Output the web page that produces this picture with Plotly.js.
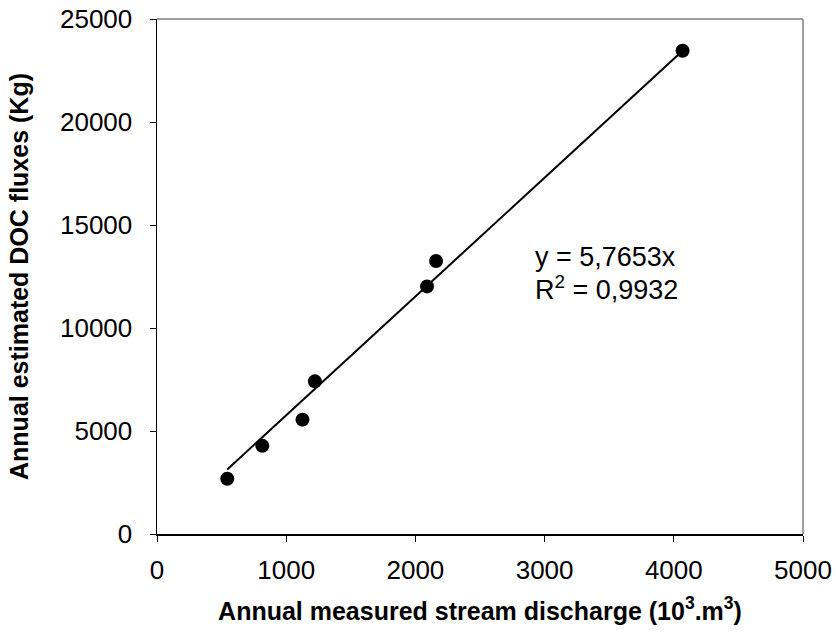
<!DOCTYPE html>
<html>
<head>
<meta charset="utf-8">
<script src="https://cdn.plot.ly/plotly-3.0.1.min.js"></script>
<style>html,body{margin:0;padding:0;background:#fff;}#chart{width:836px;height:643px;}</style>
</head>
<body>
<div id="chart"></div>
<script>
// Data
const discharge = [544, 815, 1126, 1222, 2090, 2160, 4068];   // 10^3 m^3
const docFlux   = [2680, 4280, 5550, 7410, 12020, 13250, 23460]; // Kg
const slope = 5.7653;
const r2Text = "0,9932";
const xTicks = [0, 1000, 2000, 3000, 4000, 5000];
const yTicks = [0, 5000, 10000, 15000, 20000, 25000];

const xMin = Math.min(...discharge), xMax = Math.max(...discharge);
const fitX = [xMin, xMax];
const fitY = fitX.map(v => slope * v);

const font = "Arial, 'Liberation Sans', sans-serif";

const traces = [
  {x: fitX, y: fitY, mode: "lines", type: "scatter", line: {color: "#000", width: 2}, hoverinfo: "skip"},
  {x: discharge, y: docFlux, mode: "markers", type: "scatter", marker: {color: "#000", size: 14}}
];

const layout = {
  width: 836, height: 643,
  margin: {l: 157, r: 33, t: 19, b: 109},
  paper_bgcolor: "#fff", plot_bgcolor: "#fff",
  showlegend: false,
  font: {family: font, color: "#000", size: 26},
  xaxis: {
    range: [0, 5000], tickvals: xTicks, ticktext: xTicks.map(String),
    showgrid: false, zeroline: false, showline: true, linecolor: "#000", linewidth: 1.5,
    ticks: "outside", ticklen: 6, tickcolor: "#000", tickwidth: 1,
    ticklabelstandoff: 6,
    tickfont: {size: 26},
    title: {text: "<b>Annual measured stream discharge (10<sup>3</sup>.m<sup>3</sup>)</b>", font: {size: 25}},
    automargin: false
  },
  yaxis: {
    range: [0, 25000], tickvals: yTicks, ticktext: yTicks.map(String),
    showgrid: false, zeroline: false, showline: true, linecolor: "#000", linewidth: 1.5,
    ticks: "outside", ticklen: 6, tickcolor: "#000", tickwidth: 1,
    ticklabelstandoff: 12,
    tickfont: {size: 26},
    title: {text: "<b>Annual estimated DOC fluxes (Kg)</b>", font: {size: 25}, standoff: 24},
    automargin: "left"
  },
  shapes: [
    {type: "line", xref: "paper", yref: "paper", x0: 0, x1: 1, y0: 1, y1: 1, line: {color: "#808080", width: 1.5}},
    {type: "line", xref: "paper", yref: "paper", x0: 1, x1: 1, y0: 0, y1: 1, line: {color: "#808080", width: 1.5}}
  ],
  annotations: [
    {x: 2910, y: 13437, xref: "x", yref: "y", xanchor: "left", yanchor: "middle", showarrow: false,
     text: "y = " + String(slope).replace(".", ",") + "x", font: {size: 27}},
    {x: 2910, y: 11928, xref: "x", yref: "y", xanchor: "left", yanchor: "middle", showarrow: false,
     text: "R<sup>2</sup> = " + r2Text, font: {size: 27}}
  ]
};

Plotly.newPlot("chart", traces, layout, {displayModeBar: false, staticPlot: true});
</script>
</body>
</html>
